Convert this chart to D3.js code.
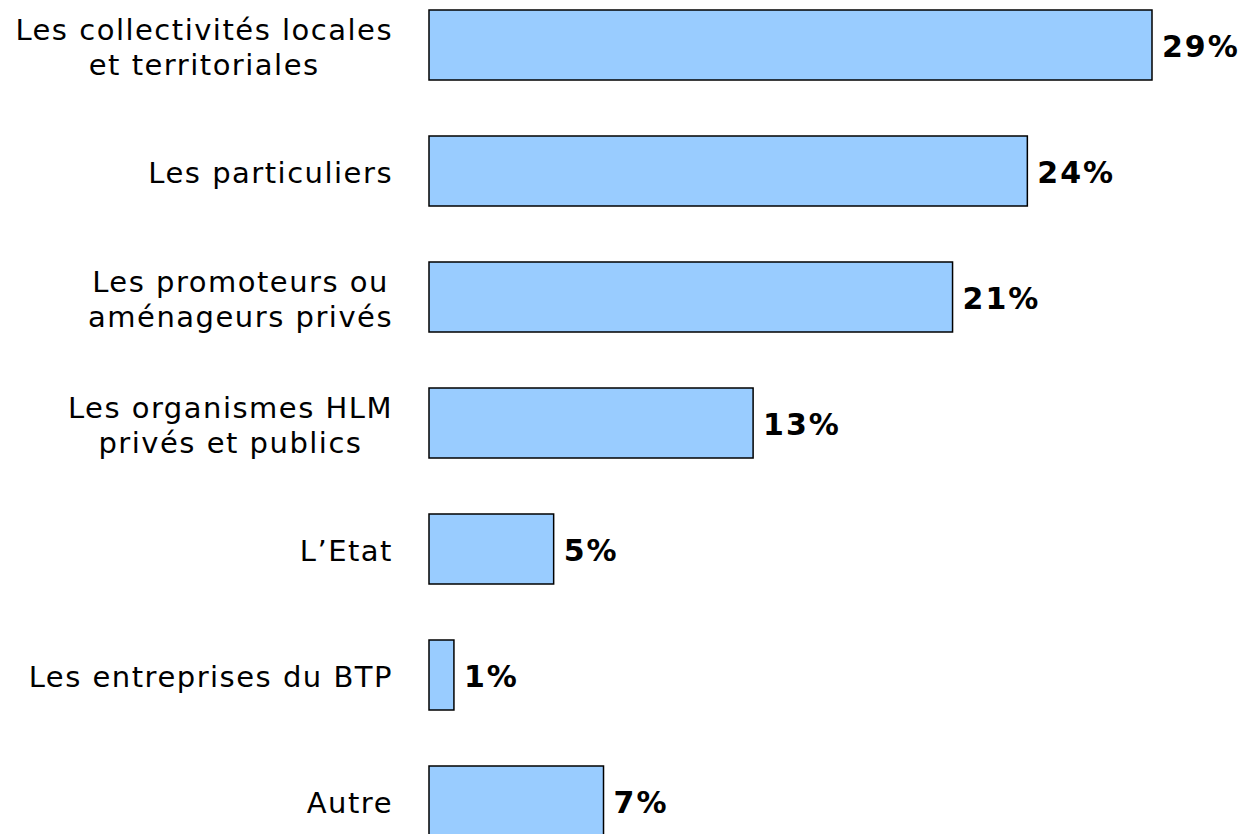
<!DOCTYPE html>
<html>
<head>
<meta charset="utf-8">
<script src="https://cdn.jsdelivr.net/npm/d3@7"></script>
<style>
  body { margin: 0; background: #fff; }
  svg { display: block; }
</style>
</head>
<body>
<script>
// categories (multi-line labels split with \n) and values in %
const categories = [
  "Les collectivités locales\net territoriales",
  "Les particuliers",
  "Les promoteurs ou\naménageurs privés",
  "Les organismes HLM\nprivés et publics",
  "L\u2019Etat",
  "Les entreprises du BTP",
  "Autre"
];
const values = [29, 24, 21, 13, 5, 1, 7];

let width = 1249,
    height = 834;

let svg = d3.select('body')
            .append('svg')
            .attr('width', width)
            .attr('height', height)
            .style('font-family', 'Verdana, "DejaVu Sans", sans-serif');

let x = d3.scaleLinear().domain([0, 29]).range([429, 1152]);

// step 126, bar height 70
let y = d3.scaleBand()
          .domain(categories)
          .range([-18, 864])
          .paddingInner(56 / 126)
          .paddingOuter(28 / 126)
          .align(0.5);

let data = categories.map((c, i) => ({cat: c, val: values[i]}));

svg.append('g')
   .selectAll('rect')
   .data(data)
   .enter().append('rect')
   .attr('x', x(0))
   .attr('y', d => y(d.cat))
   .attr('width', d => x(d.val) - x(0))
   .attr('height', y.bandwidth())
   .attr('fill', '#99ccff')
   .attr('stroke', '#000')
   .attr('stroke-width', 1.5);

// value labels
svg.append('g')
   .selectAll('text')
   .data(data)
   .enter().append('text')
   .attr('x', d => x(d.val) + 10)
   .attr('y', d => y(d.cat) + y.bandwidth() / 2 + 1)
   .attr('dy', '0.36em')
   .attr('font-size', 30)
   .attr('font-weight', 'bold')
   .attr('letter-spacing', 2)
   .text(d => d.val + '%');

// category labels, centered lines, block right edge near the bars
let labelRight = 393,
    lineH = 35;

let labels = svg.append('g')
   .selectAll('text')
   .data(data)
   .enter().append('text')
   .attr('font-size', 29)
   .attr('letter-spacing', 1.5)
   .attr('text-anchor', 'middle')
   .attr('fill', '#000');

labels.each(function(d) {
  let t = d3.select(this),
      lines = d.cat.split('\n');
  lines.forEach((l, i) => {
    t.append('tspan')
     .attr('y', y(d.cat) + y.bandwidth() / 2 + 2 + (i - (lines.length - 1) / 2) * lineH)
     .attr('dy', '0.36em')
     .text(l);
  });
  let w = d3.max(t.selectAll('tspan').nodes(), n => n.getComputedTextLength());
  t.selectAll('tspan').attr('x', labelRight - w / 2);
});
</script>
</body>
</html>
